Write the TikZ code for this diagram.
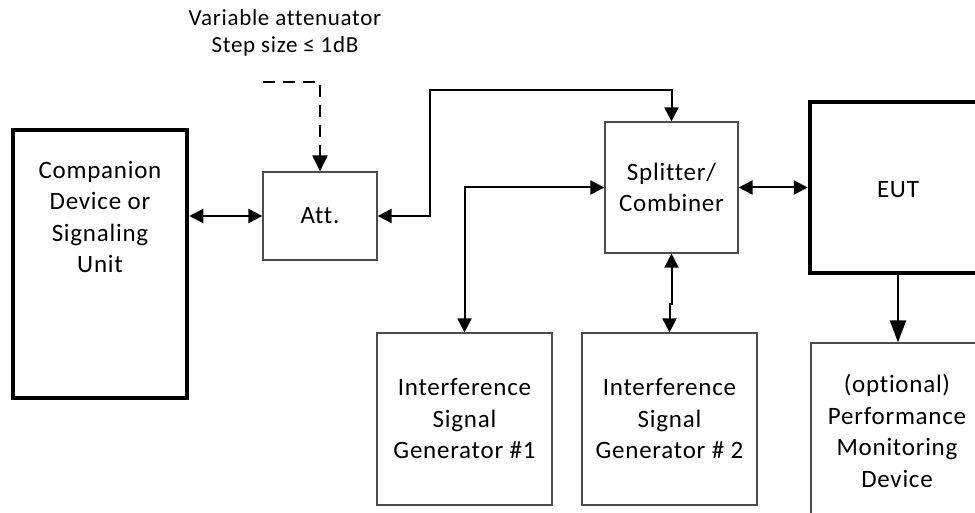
\documentclass[tikz,border=0pt]{standalone}
\usepackage{fontspec}
\setmainfont{Carlito}[Ligatures={NoCommon}, LetterSpace=3]
\usetikzlibrary{arrows.meta}
\begin{document}
\begin{tikzpicture}[x=1pt,y=-1pt,
  txt/.style={align=center, inner sep=0pt, font=\fontsize{25}{31.5}\selectfont},
  thinbox/.style={draw=black!70, line width=1.2pt, inner sep=0pt},
  thickbox/.style={draw=black, line width=4.5pt, inner sep=0pt},
  conn/.style={line width=2pt, {Triangle[length=14pt,width=14pt]}-{Triangle[length=14pt,width=14pt]}},
  oneway/.style={line width=2pt, -{Triangle[length=22pt,width=16pt]}},
  dashconn/.style={line width=2pt, dash pattern=on 12pt off 8pt, -{Triangle[length=16pt,width=15pt]}}
]
\useasboundingbox (0,0) rectangle (975,513);
\clip (0,0) rectangle (975,513);
\fill[white] (0,0) rectangle (975,513);

% boxes
\node[thickbox, minimum width=174pt, minimum height=268pt] (comp) at (100,264) {};
\node[txt] (comptext) at (100,217) {Companion\\Device or\\Signaling\\Unit};
\node[thinbox, txt, minimum width=114pt, minimum height=88pt] (att) at (320,216) {Att.};
\node[thinbox, txt, minimum width=133pt, minimum height=131pt] (split) at (671.5,187.5) {Splitter/\\Combiner};
\node[thickbox, minimum width=300pt, minimum height=171pt] (eut) at (960,187.5) {};
\node[txt] (euttext) at (898,190) {EUT};
\node[thinbox, txt, minimum width=175pt, minimum height=172pt] (gen1) at (464.5,419) {Interference\\Signal\\Generator \#1};
\node[thinbox, txt, minimum width=175pt, minimum height=172pt] (gen2) at (669.5,419) {Interference\\Signal\\Generator \# 2};
\node[thinbox, minimum width=300pt, minimum height=260pt] (mon) at (961,473) {};
\node[txt] (montext) at (897,431) {(optional)\\Performance\\Monitoring\\Device};

% label
\node[txt, font=\fontsize{23}{27.5}\selectfont] (lab) at (285,33) {Variable attenuator\\Step size ≤ 1dB};

% connectors
\coordinate (d0) at (263,82);
\draw[dashconn] (d0) -| (att.north);
\draw[conn] (comp.east |- att.west) -- (att.west);
\coordinate (k1) at (430,90);
\draw[conn] (att.east) -| (k1) -| (split.north);
\draw[conn] (split.west) -| (gen1.north);
\draw[conn] (split.south) -- ++(0,50) -| (gen2.north);
\draw[conn] (split.east) -- (split.east -| eut.west);
\draw[oneway] (euttext |- eut.south) -- (euttext |- mon.north);
\end{tikzpicture}
\end{document}
